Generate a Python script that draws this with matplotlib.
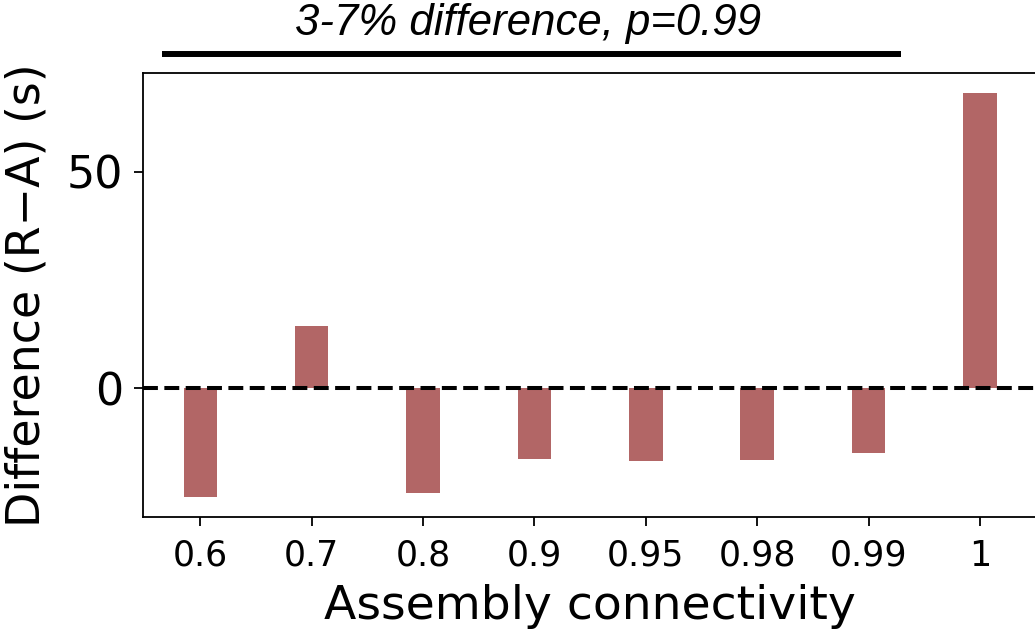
import matplotlib
matplotlib.use("Agg")
import matplotlib.pyplot as plt
import numpy as np

categories = ["0.6", "0.7", "0.8", "0.9", "0.95", "0.98", "0.99", "1"]
differences = [-25.0, 14.3, -24.1, -16.3, -16.7, -16.5, -14.9, 68.1]
annotation = "3-7% difference, p=0.99"

fig = plt.figure(figsize=(10.35, 6.29), dpi=100)
ax = fig.add_axes([0.1382, 0.1781, 1.0022 - 0.1382, 0.8839 - 0.1781])

x = np.arange(len(categories))
ax.bar(x, differences, width=0.3, color="#B26666")
ax.autoscale_view()
xlim = ax.get_xlim()
ylim = ax.get_ylim()
ax.axhline(0, color="black", linestyle="--", linewidth=2.9)

ax.set_xticks(x)
ax.set_xticklabels(categories, fontsize=25)
ax.set_yticks([0, 50])
ax.tick_params(axis="y", labelsize=32, length=6.5, width=1.3, pad=8)
ax.tick_params(axis="x", length=6.5, width=1.3, pad=9)
for s in ax.spines.values():
    s.set_linewidth(1.3)

ax.set_xlabel("Assembly connectivity", fontsize=34, labelpad=8)
ax.set_ylabel("Difference (R\u2212A) (s)", fontsize=33, labelpad=12)

# significance bar above the axes
ax.plot([-0.345, 6.29], [77.1, 77.1], color="black", linewidth=4.3,
        solid_capstyle="butt", clip_on=False)
ax.text(2.94, 81.5, annotation, ha="center", va="baseline", fontsize=31.5,
        style="italic", family="Liberation Sans", clip_on=False)
ax.set_xlim(xlim)
ax.set_ylim(ylim)

fig.savefig("out.png", dpi=100)
